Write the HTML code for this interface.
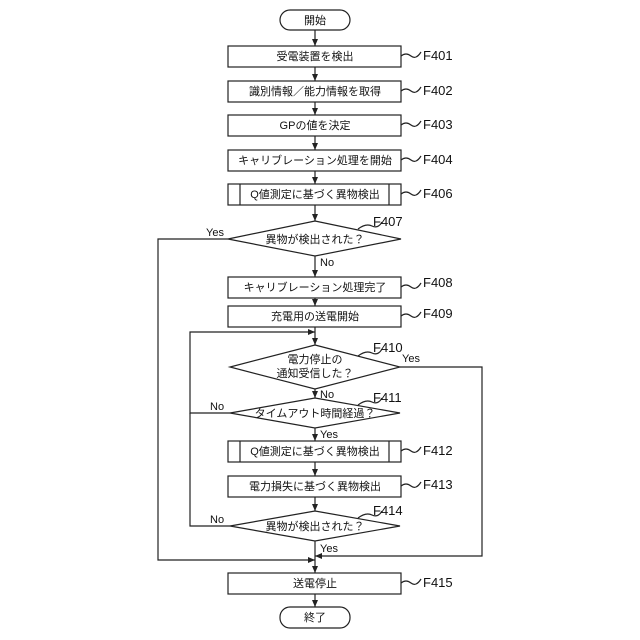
<!DOCTYPE html>
<html><head><meta charset="utf-8"><style>body{margin:0;background:#fff}svg{display:block}text{font-family:"Liberation Sans","Noto Sans CJK JP",sans-serif;fill:#111}</style></head><body>
<svg width="640" height="640" viewBox="0 0 640 640" xmlns="http://www.w3.org/2000/svg">
<defs><marker id="a" markerWidth="8" markerHeight="8" refX="7" refY="4" orient="auto" markerUnits="userSpaceOnUse"><path d="M0,1 L7,4 L0,7 Z" fill="#222"/></marker></defs>
<g stroke="#222" stroke-width="1.2" fill="none">
<rect x="280" y="10" width="70" height="20" rx="10" fill="#fff"/>
<rect x="228" y="46" width="173" height="21"/>
<rect x="228" y="81" width="173" height="21"/>
<rect x="228" y="115" width="173" height="21"/>
<rect x="228" y="150" width="173" height="21"/>
<rect x="228" y="184" width="173" height="21"/><line x1="240" y1="184" x2="240" y2="205"/><line x1="389" y1="184" x2="389" y2="205"/>
<polygon points="315,221 401,239 315,256 228,239"/>
<rect x="228" y="277" width="173" height="21"/>
<rect x="228" y="306" width="173" height="21"/>
<polygon points="315,345 400,367 315,389 230,367"/>
<polygon points="315,398 400,413 315,428 230,413"/>
<rect x="228" y="441" width="173" height="21"/><line x1="240" y1="441" x2="240" y2="462"/><line x1="389" y1="441" x2="389" y2="462"/>
<rect x="228" y="476" width="173" height="21"/>
<polygon points="315,511 400,526 315,541 230,526"/>
<rect x="228" y="573" width="173" height="21"/>
<rect x="280" y="607" width="70" height="21" rx="10"/>
<line x1="315" y1="30" x2="315" y2="46" marker-end="url(#a)"/>
<line x1="315" y1="67" x2="315" y2="81" marker-end="url(#a)"/>
<line x1="315" y1="102" x2="315" y2="115" marker-end="url(#a)"/>
<line x1="315" y1="136" x2="315" y2="150" marker-end="url(#a)"/>
<line x1="315" y1="171" x2="315" y2="184" marker-end="url(#a)"/>
<line x1="315" y1="205" x2="315" y2="221" marker-end="url(#a)"/>
<line x1="315" y1="256" x2="315" y2="277" marker-end="url(#a)"/>
<line x1="315" y1="298" x2="315" y2="306" marker-end="url(#a)"/>
<line x1="315" y1="327" x2="315" y2="345" marker-end="url(#a)"/>
<line x1="315" y1="389" x2="315" y2="398" marker-end="url(#a)"/>
<line x1="315" y1="428" x2="315" y2="441" marker-end="url(#a)"/>
<line x1="315" y1="462" x2="315" y2="476" marker-end="url(#a)"/>
<line x1="315" y1="497" x2="315" y2="511" marker-end="url(#a)"/>
<line x1="315" y1="541" x2="315" y2="573" marker-end="url(#a)"/>
<line x1="315" y1="594" x2="315" y2="607" marker-end="url(#a)"/>
<polyline points="230,413 190,413 190,332 315,332" marker-end="url(#a)"/>
<polyline points="230,526 190,526 190,413"/>
<polyline points="228,239 158,239 158,560 315,560" marker-end="url(#a)"/>
<polyline points="400,367 482,367 482,556 315,556" marker-end="url(#a)"/>
<path d="M401,56 q5,-4 10,0 t10,-4"/><path d="M401,91 q5,-4 10,0 t10,-4"/><path d="M401,125 q5,-4 10,0 t10,-4"/><path d="M401,160 q5,-4 10,0 t10,-4"/><path d="M401,194 q5,-4 10,0 t10,-4"/><path d="M401,287 q5,-4 10,0 t10,-4"/><path d="M401,316 q5,-4 10,0 t10,-4"/><path d="M401,451 q5,-4 10,0 t10,-4"/><path d="M401,486 q5,-4 10,0 t10,-4"/><path d="M401,583 q5,-4 10,0 t10,-4"/>
<path d="M358,229 q8,-6 14,-3 t10,-4"/><path d="M358,356 q8,-6 14,-3 t10,-4"/><path d="M358,405 q8,-6 14,-3 t10,-4"/><path d="M358,518 q8,-6 14,-3 t10,-4"/>
</g>
<g font-size="11" text-anchor="middle">
<text x="315" y="24">開始</text>
<text x="315" y="60">受電装置を検出</text>
<text x="315" y="95">識別情報／能力情報を取得</text>
<text x="315" y="129">GPの値を決定</text>
<text x="315" y="164">キャリブレーション処理を開始</text>
<text x="315" y="198">Q値測定に基づく異物検出</text>
<text x="315" y="243">異物が検出された？</text>
<text x="315" y="291">キャリブレーション処理完了</text>
<text x="315" y="320">充電用の送電開始</text>
<text x="315" y="363">電力停止の</text>
<text x="315" y="377">通知受信した？</text>
<text x="315" y="417">タイムアウト時間経過？</text>
<text x="315" y="455">Q値測定に基づく異物検出</text>
<text x="315" y="490">電力損失に基づく異物検出</text>
<text x="315" y="530">異物が検出された？</text>
<text x="315" y="587">送電停止</text>
<text x="315" y="621">終了</text>
</g>
<g font-size="13">
<text x="423" y="60">F401</text><text x="423" y="95">F402</text><text x="423" y="129">F403</text><text x="423" y="164">F404</text><text x="423" y="198">F406</text>
<text x="373" y="226">F407</text><text x="423" y="287">F408</text><text x="423" y="318">F409</text>
<text x="373" y="352">F410</text><text x="373" y="402">F411</text><text x="423" y="455">F412</text><text x="423" y="489">F413</text>
<text x="373" y="515">F414</text><text x="423" y="587">F415</text>
</g>
<g font-size="11">
<text x="206" y="236">Yes</text><text x="320" y="266">No</text>
<text x="402" y="362">Yes</text><text x="320" y="398">No</text>
<text x="210" y="410">No</text><text x="320" y="438">Yes</text>
<text x="210" y="523">No</text><text x="320" y="552">Yes</text>
</g>
</svg>
</body></html>
